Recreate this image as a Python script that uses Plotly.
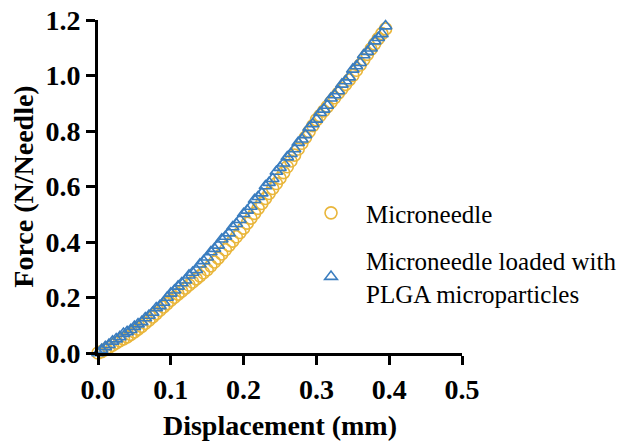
import plotly.graph_objects as go

# Displacement (mm) sampled for both specimens
displacement = [
    0.000, 0.005, 0.010, 0.015, 0.020, 0.025, 0.030, 0.035, 0.040, 0.045,
    0.050, 0.055, 0.060, 0.065, 0.070, 0.075, 0.080, 0.085, 0.090, 0.095,
    0.100, 0.105, 0.110, 0.115, 0.120, 0.125, 0.130, 0.135, 0.140, 0.145,
    0.150, 0.155, 0.160, 0.165, 0.170, 0.175, 0.180, 0.185, 0.190, 0.195,
    0.200, 0.205, 0.210, 0.215, 0.220, 0.225, 0.230, 0.235, 0.240, 0.245,
    0.250, 0.255, 0.260, 0.265, 0.270, 0.275, 0.280, 0.285, 0.290, 0.295,
    0.300, 0.305, 0.310, 0.315, 0.320, 0.325, 0.330, 0.335, 0.340, 0.345,
    0.350, 0.355, 0.360, 0.365, 0.370, 0.375, 0.380, 0.385, 0.390, 0.395,
]

# Force (N/Needle) – blank microneedle
force_mn = [
    0.000, 0.005, 0.012, 0.020, 0.028, 0.036, 0.044, 0.051, 0.058, 0.067,
    0.076, 0.086, 0.096, 0.107, 0.118, 0.130, 0.142, 0.154, 0.166, 0.178,
    0.190, 0.201, 0.212, 0.223, 0.234, 0.245, 0.256, 0.267, 0.278, 0.289,
    0.300, 0.314, 0.328, 0.342, 0.357, 0.372, 0.388, 0.403, 0.419, 0.434,
    0.450, 0.468, 0.486, 0.503, 0.521, 0.539, 0.557, 0.575, 0.593, 0.611,
    0.630, 0.650, 0.671, 0.692, 0.713, 0.735, 0.756, 0.777, 0.798, 0.819,
    0.840, 0.856, 0.872, 0.888, 0.904, 0.920, 0.936, 0.952, 0.968, 0.984,
    1.000, 1.019, 1.038, 1.057, 1.076, 1.095, 1.114, 1.133, 1.151, 1.168,
]

# Force (N/Needle) – microneedle loaded with PLGA microparticles
force_plga = [
    0.000, 0.012, 0.022, 0.030, 0.042, 0.050, 0.058, 0.070, 0.076, 0.084,
    0.095, 0.104, 0.112, 0.126, 0.135, 0.146, 0.162, 0.170, 0.182, 0.200,
    0.215, 0.226, 0.240, 0.252, 0.262, 0.280, 0.290, 0.300, 0.320, 0.332,
    0.345, 0.364, 0.376, 0.388, 0.410, 0.420, 0.432, 0.454, 0.466, 0.480,
    0.502, 0.514, 0.528, 0.552, 0.563, 0.576, 0.602, 0.614, 0.628, 0.654,
    0.668, 0.684, 0.706, 0.718, 0.735, 0.758, 0.770, 0.786, 0.812, 0.825,
    0.842, 0.866, 0.878, 0.892, 0.918, 0.930, 0.944, 0.968, 0.980, 0.994,
    1.022, 1.034, 1.046, 1.074, 1.086, 1.098, 1.124, 1.136, 1.150, 1.178,
]

x_ticks = [0.0, 0.1, 0.2, 0.3, 0.4, 0.5]
x_tick_labels = ["0.0", "0.1", "0.2", "0.3", "0.4", "0.5"]
y_ticks = [0.0, 0.2, 0.4, 0.6, 0.8, 1.0, 1.2]
y_tick_labels = ["0.0", "0.2", "0.4", "0.6", "0.8", "1.0", "1.2"]

YELLOW = "#E9B63B"
BLUE = "#3A7DBF"
SERIF = "Liberation Serif"

fig = go.Figure()
fig.add_trace(go.Scatter(
    x=displacement, y=force_mn, mode="markers", name="Microneedle",
    legendgroup="mn",
    marker=dict(symbol="circle-open", size=12, color=YELLOW, line=dict(width=1.6)),
    cliponaxis=False,
))
fig.add_trace(go.Scatter(
    x=displacement, y=force_plga, mode="markers",
    name="Microneedle loaded with<br>PLGA microparticles",
    legendgroup="plga",
    marker=dict(symbol="triangle-up-open", size=11, color=BLUE, line=dict(width=1.6)),
    cliponaxis=False,
))

axis_common = dict(
    showline=True, linecolor="black", linewidth=3,
    ticks="outside", ticklen=9, tickwidth=3, tickcolor="black",
    showgrid=False, zeroline=False,
    tickfont=dict(family=SERIF, size=28, color="black", weight="bold"),
    title_font=dict(family=SERIF, size=28, color="black", weight="bold"),
)

fig.update_xaxes(
    range=[0, 0.5], tickvals=x_ticks, ticktext=x_tick_labels,
    title_text="Displacement (mm)", title_standoff=12, **axis_common,
)
fig.update_yaxes(
    range=[0, 1.2], tickvals=y_ticks, ticktext=y_tick_labels,
    title_text="Force (N/Needle)", title_standoff=4, **axis_common,
)

fig.update_layout(
    width=618, height=442,
    margin=dict(l=98, r=156, t=20, b=89, autoexpand=False),
    paper_bgcolor="white", plot_bgcolor="white",
    showlegend=True,
    legend=dict(
        x=0.544, y=0.30, xanchor="left", yanchor="middle",
        font=dict(family=SERIF, size=25, color="black"),
        bgcolor="rgba(0,0,0,0)", itemwidth=60, tracegroupgap=12,
        itemclick=False,
    ),
)

fig.write_html("out.html")
